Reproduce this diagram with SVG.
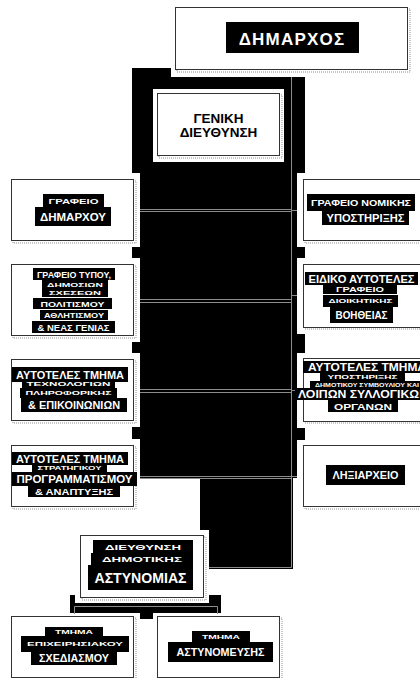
<svg xmlns="http://www.w3.org/2000/svg" width="420" height="679" viewBox="0 0 420 679">
<style>
.bg{fill:#000}
.margin{fill:#fff}
.box{fill:#fff;stroke:#333;stroke-width:1}
.shadow{fill:none;stroke:#b5b5b5;stroke-width:1.5;stroke-dasharray:1 1}
.hl{fill:#000}
.t{font-family:"Liberation Sans",Arial,sans-serif;fill:#fff;text-anchor:middle;font-weight:bold}
.k{font-family:"Liberation Sans",Arial,sans-serif;fill:#000;text-anchor:middle;font-weight:bold}
.conn{stroke:#8c8c8c;stroke-width:1;fill:none}
</style>
<rect width="420" height="679" fill="#fff"/>
<g id="background">
<rect class="bg" x="132" y="68" width="173" height="410"/>
<rect class="bg" x="200" y="478" width="93" height="91"/>
<rect class="bg" x="70" y="595" width="151" height="18"/>
<rect class="bg" x="140" y="595" width="13" height="24"/>
</g>
<g id="connectors">
<path class="conn" d="M291.5 70V567.5H209"/>
<path class="conn" d="M140 209.5H291M140 211.5H291M291 210.5H303"/>
<path class="conn" d="M140 299.5H291M140 302.5H291M291 295.5H303"/>
<path class="conn" d="M140 389.5H291M140 392.5H291M291 390.5H303"/>
<path class="conn" d="M140 476.5H291M140 478.5H291M291 476.5H303"/>
<path class="conn" d="M74.5 614V606.5H217.5V614"/>
</g>
<g id="dimarxos">
<rect class="margin" x="171" y="0" width="245" height="77"/>
<rect class="shadow" x="177" y="9" width="233" height="63"/>
<rect class="box" x="175.5" y="7.5" width="232" height="62"/>
<rect class="hl" x="226" y="22" width="133" height="31"/>
<text class="t" x="292" y="45" font-size="17" font-weight="normal" letter-spacing="1.2">ΔΗΜΑΡΧΟΣ</text>
</g>
<g id="geniki-dieuthynsi">
<rect class="margin" x="153" y="89" width="131" height="73"/>
<rect class="shadow" x="159" y="95" width="123" height="63"/>
<rect class="box" x="157.5" y="93.5" width="122" height="62"/>
<text class="k" x="218.5" y="122.5" font-size="13.5">ΓΕΝΙΚΗ</text>
<text class="k" x="218.5" y="137" font-size="13.5">ΔΙΕΥΘΥΝΣΗ</text>
</g>
<g id="grafeio-dimarxou">
<rect class="margin" x="5" y="173" width="135" height="74"/>
<rect class="shadow" x="13" y="181" width="123" height="62"/>
<rect class="box" x="11.5" y="179.5" width="122" height="61"/>
<rect class="hl" x="43" y="194" width="61" height="13"/>
<rect class="hl" x="35" y="207" width="76" height="19"/>
<text class="t" x="73.5" y="204" font-size="8" textLength="50" lengthAdjust="spacingAndGlyphs">ΓΡΑΦΕΙΟ</text>
<text class="t" x="73" y="221" font-size="11" textLength="66" lengthAdjust="spacingAndGlyphs">ΔΗΜΑΡΧΟΥ</text>
</g>
<g id="grafeio-typou">
<rect class="margin" x="5" y="258" width="135" height="84"/>
<rect class="shadow" x="13" y="266" width="123" height="72"/>
<rect class="box" x="11.5" y="264.5" width="122" height="71"/>
<rect class="hl" x="33" y="268" width="82" height="12"/>
<rect class="hl" x="42" y="280" width="66" height="8"/>
<rect class="hl" x="42" y="288" width="66" height="9"/>
<rect class="hl" x="33" y="298" width="79" height="11"/>
<rect class="hl" x="40" y="310" width="68" height="10"/>
<rect class="hl" x="32" y="321" width="83" height="12"/>
<text class="t" x="74" y="277.5" font-size="8.5" textLength="74" lengthAdjust="spacingAndGlyphs">ΓΡΑΦΕΙΟ ΤΥΠΟΥ,</text>
<text class="t" x="75" y="286.5" font-size="6" textLength="56" lengthAdjust="spacingAndGlyphs">ΔΗΜΟΣΙΩΝ</text>
<text class="t" x="75" y="294.5" font-size="6" textLength="52" lengthAdjust="spacingAndGlyphs">ΣΧΕΣΕΩΝ</text>
<text class="t" x="72.5" y="306.5" font-size="7.5" textLength="64" lengthAdjust="spacingAndGlyphs">ΠΟΛΙΤΙΣΜΟΥ</text>
<text class="t" x="74" y="318" font-size="7.5" textLength="60" lengthAdjust="spacingAndGlyphs">ΑΘΛΗΤΙΣΜΟΥ</text>
<text class="t" x="73.5" y="331" font-size="9.5" textLength="72" lengthAdjust="spacingAndGlyphs">&amp; ΝΕΑΣ ΓΕΝΙΑΣ</text>
</g>
<g id="tmima-pliroforikis">
<rect class="margin" x="5" y="353" width="135" height="74"/>
<rect class="shadow" x="13" y="361" width="123" height="62"/>
<rect class="box" x="11.5" y="359.5" width="122" height="61"/>
<rect class="hl" x="12" y="367" width="116" height="15"/>
<rect class="hl" x="22" y="380" width="93" height="8"/>
<rect class="hl" x="20" y="388" width="97" height="10"/>
<rect class="hl" x="21" y="398" width="106" height="14"/>
<text class="t" x="70" y="378.5" font-size="10.5" textLength="108" lengthAdjust="spacingAndGlyphs">ΑΥΤΟΤΕΛΕΣ ΤΜΗΜΑ</text>
<text class="t" x="68.5" y="386" font-size="5" textLength="84" lengthAdjust="spacingAndGlyphs">ΤΕΧΝΟΛΟΓΙΩΝ</text>
<text class="t" x="68.5" y="395" font-size="5" textLength="86" lengthAdjust="spacingAndGlyphs">ΠΛΗΡΟΦΟΡΙΚΗΣ</text>
<text class="t" x="74" y="409" font-size="10" textLength="92" lengthAdjust="spacingAndGlyphs">&amp; ΕΠΙΚΟΙΝΩΝΙΩΝ</text>
</g>
<g id="tmima-programmatismou">
<rect class="margin" x="5" y="439" width="135" height="74"/>
<rect class="shadow" x="13" y="447" width="123" height="62"/>
<rect class="box" x="11.5" y="445.5" width="122" height="61"/>
<rect class="hl" x="12" y="452" width="116" height="13"/>
<rect class="hl" x="32" y="464" width="75" height="8"/>
<rect class="hl" x="12" y="472" width="125" height="14"/>
<rect class="hl" x="28" y="486" width="92" height="11"/>
<text class="t" x="70" y="462.5" font-size="10.5" textLength="108" lengthAdjust="spacingAndGlyphs">ΑΥΤΟΤΕΛΕΣ ΤΜΗΜΑ</text>
<text class="t" x="69.5" y="470" font-size="5" textLength="64" lengthAdjust="spacingAndGlyphs">ΣΤΡΑΤΗΓΙΚΟΥ</text>
<text class="t" x="74.5" y="483" font-size="10" textLength="116" lengthAdjust="spacingAndGlyphs">ΠΡΟΓΡΑΜΜΑΤΙΣΜΟΥ</text>
<text class="t" x="74" y="495" font-size="9.5" textLength="78" lengthAdjust="spacingAndGlyphs">&amp; ΑΝΑΠΤΥΞΗΣ</text>
</g>
<g id="grafeio-nomikis">
<rect class="margin" x="297" y="173" width="130" height="74"/>
<rect class="shadow" x="305" y="181" width="123" height="62"/>
<rect class="box" x="303.5" y="179.5" width="125" height="61"/>
<rect class="hl" x="307" y="194" width="108" height="17"/>
<rect class="hl" x="322" y="211" width="87" height="14"/>
<text class="t" x="361" y="206" font-size="9" textLength="100" lengthAdjust="spacingAndGlyphs">ΓΡΑΦΕΙΟ ΝΟΜΙΚΗΣ</text>
<text class="t" x="365.5" y="222" font-size="10" textLength="78" lengthAdjust="spacingAndGlyphs">ΥΠΟΣΤΗΡΙΞΗΣ</text>
</g>
<g id="grafeio-voitheias">
<rect class="margin" x="297" y="258" width="130" height="76"/>
<rect class="shadow" x="305" y="266" width="123" height="63"/>
<rect class="box" x="303.5" y="264.5" width="125" height="63"/>
<rect class="hl" x="305" y="272" width="113" height="13"/>
<rect class="hl" x="323" y="285" width="74" height="9"/>
<rect class="hl" x="323" y="295" width="75" height="12"/>
<rect class="hl" x="330" y="307" width="63" height="16"/>
<text class="t" x="361.5" y="283" font-size="10.5" textLength="106" lengthAdjust="spacingAndGlyphs">ΕΙΔΙΚΟ ΑΥΤΟΤΕΛΕΣ</text>
<text class="t" x="360" y="292" font-size="6.5" textLength="48" lengthAdjust="spacingAndGlyphs">ΓΡΑΦΕΙΟ</text>
<text class="t" x="360.5" y="303" font-size="5" textLength="64" lengthAdjust="spacingAndGlyphs">ΔΙΟΙΚΗΤΙΚΗΣ</text>
<text class="t" x="361.5" y="319" font-size="10.5" textLength="52" lengthAdjust="spacingAndGlyphs">ΒΟΗΘΕΙΑΣ</text>
</g>
<g id="tmima-syllogikon">
<rect class="margin" x="297" y="353" width="130" height="75"/>
<rect class="shadow" x="305" y="360" width="123" height="63"/>
<rect class="box" x="303.5" y="358.5" width="125" height="63"/>
<rect class="hl" x="303" y="361" width="117" height="12"/>
<rect class="hl" x="320" y="373" width="85" height="8"/>
<rect class="hl" x="310" y="381" width="110" height="7"/>
<rect class="hl" x="295" y="388" width="125" height="12"/>
<rect class="hl" x="328" y="400" width="70" height="12"/>
<text class="t" x="367" y="371" font-size="10.5" textLength="118" lengthAdjust="spacingAndGlyphs">ΑΥΤΟΤΕΛΕΣ ΤΜΗΜΑ</text>
<text class="t" x="362.5" y="379" font-size="5" textLength="70" lengthAdjust="spacingAndGlyphs">ΥΠΟΣΤΗΡΙΞΗΣ</text>
<text class="t" x="367" y="387" font-size="5" textLength="104" lengthAdjust="spacingAndGlyphs">ΔΗΜΟΤΙΚΟΥ ΣΥΜΒΟΥΛΙΟΥ ΚΑΙ</text>
<text class="t" x="363" y="398" font-size="10.5" textLength="130" lengthAdjust="spacingAndGlyphs">ΛΟΙΠΩΝ ΣΥΛΛΟΓΙΚΩΝ</text>
<text class="t" x="363" y="409.5" font-size="9.5" textLength="58" lengthAdjust="spacingAndGlyphs">ΟΡΓΑΝΩΝ</text>
</g>
<g id="lixiarxeio">
<rect class="margin" x="297" y="440" width="130" height="73"/>
<rect class="shadow" x="305" y="447" width="123" height="62"/>
<rect class="box" x="303.5" y="445.5" width="125" height="61"/>
<rect class="hl" x="326" y="465" width="79" height="20"/>
<text class="t" x="365.5" y="479" font-size="10.5" textLength="66" lengthAdjust="spacingAndGlyphs">ΛΗΞΙΑΡΧΕΙΟ</text>
</g>
<g id="dieuthynsi-astynomias">
<rect class="margin" x="75" y="530" width="134" height="73"/>
<rect class="shadow" x="82" y="537" width="124" height="63"/>
<rect class="box" x="80.5" y="535.5" width="123" height="62"/>
<rect class="hl" x="93" y="540" width="100" height="13"/>
<rect class="hl" x="91" y="553" width="102" height="12"/>
<rect class="hl" x="88" y="565" width="105" height="25"/>
<text class="t" x="143" y="550" font-size="6.5" textLength="76" lengthAdjust="spacingAndGlyphs">ΔΙΕΥΘΥΝΣΗ</text>
<text class="t" x="142" y="562" font-size="6.5" textLength="80" lengthAdjust="spacingAndGlyphs">ΔΗΜΟΤΙΚΗΣ</text>
<text class="t" x="140.5" y="583" font-size="14" textLength="92" lengthAdjust="spacingAndGlyphs">ΑΣΤΥΝΟΜΙΑΣ</text>
</g>
<g id="tmima-sxediasmou">
<rect class="shadow" x="13" y="618" width="123" height="62"/>
<rect class="box" x="11.5" y="616.5" width="122" height="61"/>
<rect class="hl" x="45" y="627" width="58" height="9"/>
<rect class="hl" x="21" y="636" width="108" height="16"/>
<rect class="hl" x="31" y="652" width="86" height="13"/>
<text class="t" x="74" y="634" font-size="5" textLength="38" lengthAdjust="spacingAndGlyphs">ΤΜΗΜΑ</text>
<text class="t" x="75" y="646" font-size="6" textLength="96" lengthAdjust="spacingAndGlyphs">ΕΠΙΧΕΙΡΗΣΙΑΚΟΥ</text>
<text class="t" x="74" y="662" font-size="10.5" textLength="70" lengthAdjust="spacingAndGlyphs">ΣΧΕΔΙΑΣΜΟΥ</text>
</g>
<g id="tmima-astynomeusis">
<rect class="shadow" x="159" y="618" width="123" height="62"/>
<rect class="box" x="157.5" y="616.5" width="122" height="61"/>
<rect class="hl" x="192" y="631" width="58" height="11"/>
<rect class="hl" x="168" y="642" width="105" height="20"/>
<text class="t" x="221" y="639" font-size="5" textLength="38" lengthAdjust="spacingAndGlyphs">ΤΜΗΜΑ</text>
<text class="t" x="220.5" y="656" font-size="10.5" textLength="88" lengthAdjust="spacingAndGlyphs">ΑΣΤΥΝΟΜΕΥΣΗΣ</text>
</g>
</svg>
